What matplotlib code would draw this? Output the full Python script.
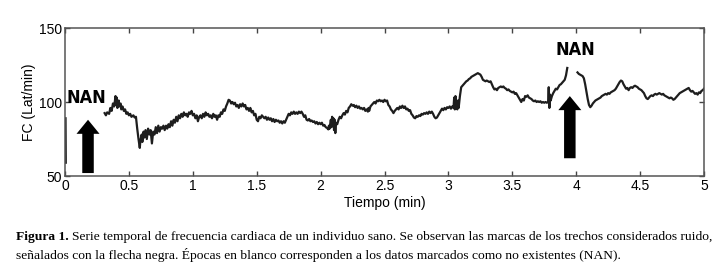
import numpy as np
import matplotlib
matplotlib.use("Agg")
import matplotlib.pyplot as plt

# FC series (min, Lat/min); NaN marks the blank epoch
t_start = [0.004, 0.006]
fc_start = [89, 59]

t_main = [
    0.31, 0.32, 0.33, 0.345, 0.355, 0.365, 0.375, 0.385, 0.395, 0.40, 0.405, 0.41, 0.42, 0.425,
    0.435, 0.44, 0.45, 0.46, 0.47, 0.48, 0.49, 0.50, 0.51, 0.52, 0.535, 0.545, 0.555, 0.565,
    0.575, 0.585, 0.59, 0.60, 0.605, 0.615, 0.62, 0.63, 0.64, 0.65, 0.66, 0.67, 0.68, 0.69,
    0.70, 0.71, 0.72, 0.73, 0.74, 0.75, 0.76, 0.77, 0.78, 0.79, 0.80, 0.81, 0.82, 0.83, 0.84,
    0.85, 0.86, 0.87, 0.88, 0.89, 0.90, 0.91, 0.92, 0.93, 0.94, 0.95, 0.96, 0.97, 0.98, 0.99,
    1.00, 1.01, 1.02, 1.03, 1.04, 1.05, 1.06, 1.07, 1.08, 1.09, 1.10, 1.11, 1.12, 1.13, 1.14,
    1.15, 1.16, 1.17, 1.18, 1.19, 1.20, 1.21, 1.22, 1.23, 1.24, 1.25, 1.26, 1.27, 1.28, 1.29,
    1.30, 1.31, 1.32, 1.33, 1.34, 1.35, 1.36, 1.37, 1.38, 1.39, 1.40, 1.41, 1.42, 1.43, 1.44,
    1.45, 1.46, 1.47, 1.48, 1.49, 1.50, 1.51, 1.52, 1.53, 1.54, 1.55, 1.56, 1.57, 1.58, 1.59,
    1.60, 1.61, 1.62, 1.63, 1.64, 1.65, 1.66, 1.67, 1.68, 1.69, 1.70, 1.71, 1.72, 1.73, 1.74,
    1.75, 1.76, 1.77, 1.78, 1.79, 1.80, 1.81, 1.82, 1.83, 1.84, 1.85, 1.86, 1.87, 1.88, 1.89,
    1.90, 1.91, 1.92, 1.93, 1.94, 1.95, 1.96, 1.97, 1.98, 1.99, 2.00, 2.01, 2.02, 2.03, 2.04,
    2.05, 2.06, 2.065, 2.07, 2.08, 2.085, 2.09, 2.095, 2.10, 2.105, 2.11, 2.115, 2.12, 2.13,
    2.14, 2.15, 2.16, 2.17, 2.18, 2.19, 2.20, 2.21, 2.22, 2.23, 2.24, 2.25, 2.26, 2.27, 2.28,
    2.29, 2.30, 2.31, 2.32, 2.33, 2.34, 2.35, 2.36, 2.37, 2.375, 2.38, 2.39, 2.40, 2.41, 2.42,
    2.43, 2.44, 2.45, 2.46, 2.47, 2.48, 2.49, 2.50, 2.51, 2.52, 2.53, 2.54, 2.55, 2.56, 2.57,
    2.58, 2.59, 2.60, 2.61, 2.62, 2.63, 2.64, 2.65, 2.66, 2.67, 2.68, 2.69, 2.70, 2.71, 2.72,
    2.73, 2.74, 2.75, 2.76, 2.77, 2.78, 2.79, 2.80, 2.81, 2.82, 2.83, 2.84, 2.85, 2.86, 2.87,
    2.88, 2.89, 2.90, 2.91, 2.92, 2.93, 2.94, 2.95, 2.96, 2.97, 2.98, 2.99, 3.00, 3.01, 3.02,
    3.03, 3.04, 3.045, 3.05, 3.055, 3.06, 3.07, 3.075, 3.08, 3.09, 3.10, 3.11, 3.12, 3.13, 3.14,
    3.15, 3.16, 3.17, 3.18, 3.19, 3.20, 3.21, 3.22, 3.23, 3.24, 3.25, 3.26, 3.27, 3.28, 3.29,
    3.30, 3.31, 3.32, 3.33, 3.34, 3.35, 3.36, 3.37, 3.38, 3.39, 3.40, 3.41, 3.42, 3.43, 3.44,
    3.45, 3.46, 3.47, 3.48, 3.49, 3.50, 3.51, 3.52, 3.53, 3.54, 3.55, 3.56, 3.57, 3.58, 3.59,
    3.60, 3.61, 3.62, 3.63, 3.64, 3.65, 3.66, 3.67, 3.68, 3.69, 3.70, 3.71, 3.72, 3.73, 3.74,
    3.75, 3.76, 3.77, 3.78, 3.785, 3.79, 3.795, 3.80, 3.81, 3.82, 3.83, 3.84, 3.85, 3.86, 3.87,
    3.88, 3.89, 3.90, 3.91, 3.92, 3.93,
]
fc_main = [
    92.5, 91, 93, 92, 96, 94, 99, 97, 104, 98, 103, 96, 101, 97,
    99, 95, 97, 94, 95, 92, 93, 91, 92, 90, 91, 89.5, 90, 82,
    75, 69, 74, 78, 73, 80, 76, 81, 75, 82, 78, 81, 72, 80,
    78, 83, 79, 84, 80, 83, 82, 84, 81, 84, 82, 85, 83, 87, 84,
    88, 86, 90, 87, 91, 89, 92, 90, 93, 91, 92, 90, 93, 92, 94,
    91, 92, 89, 91, 87, 90, 91, 89, 92, 90, 93, 91, 92, 90, 91,
    89, 92, 90, 91, 88, 91, 90, 93, 92, 95, 94, 97, 99, 101.5, 101,
    99, 100, 98.5, 99.5, 97, 98, 96, 98.5, 97, 99, 97, 98, 95, 96, 94,
    96, 93, 94, 91, 92, 88, 87, 90, 89, 91, 90, 89, 90, 88, 89.5,
    88, 89, 87, 88.5, 86.5, 88, 87, 87.5, 86, 87, 85.5, 87, 86, 88, 90,
    92, 91, 93, 92, 93.5, 92, 93, 92, 93.5, 92.5, 93.5, 92, 90, 91, 88,
    87.5, 88.5, 87, 87.5, 86.5, 87, 85.5, 86.5, 85, 86, 85, 86, 84, 84.5, 83,
    82.5, 81.5, 84, 82, 88, 83, 90, 84, 89, 81, 88, 79, 86, 85,
    88, 90, 89, 91, 92.5, 91.5, 94, 93, 96, 97, 98.5, 97.5, 98, 96.5, 97.5,
    96, 97, 95.5, 96, 95, 96, 94, 95, 93.5, 96, 94, 97, 98, 99, 100,
    99, 101, 100.5, 101.5, 100.5, 101, 100, 101.5, 100.5, 101, 98, 97, 95, 94, 92.5,
    94, 95, 96, 95, 97, 96, 97.5, 96, 97, 95, 95.5, 94, 94.5, 92, 91,
    89.5, 89, 90.5, 90, 91, 90.5, 92, 91.5, 92.5, 92, 93, 92, 93.5, 92.5, 93.5,
    92, 90, 89, 89.5, 91, 92.5, 94, 95.5, 94.5, 96, 95, 96.5, 96, 97, 95.5,
    97, 96, 103, 95, 104, 97, 95, 101, 96, 104, 110, 111, 112, 113, 114,
    114.5, 115.5, 116, 117, 117.5, 118, 118.5, 119, 119.5, 119, 118.5, 117, 115, 114.5, 114,
    114.5, 114, 113.5, 114, 112, 110, 108.5, 109, 108, 109.5, 110, 110.5, 110, 110.5, 109.5,
    109, 108, 108.5, 107.5, 107, 106.5, 107, 105.5, 106, 104.5, 103, 101.5, 100, 102, 101,
    104, 103.5, 104.5, 103, 102.5, 102, 101, 100.5, 101, 100, 100.5, 100, 100.5, 99.5, 100,
    99.5, 100, 99.5, 100, 110, 96, 105, 101, 104, 106, 107.5, 109, 108.5, 110, 111.5,
    112, 113, 114, 115, 118, 123,
]

t_end = [
    4.01, 4.02, 4.03, 4.04, 4.05, 4.06, 4.07, 4.08, 4.09, 4.10, 4.11, 4.12, 4.13, 4.14, 4.15,
    4.16, 4.17, 4.18, 4.19, 4.20, 4.21, 4.22, 4.23, 4.24, 4.25, 4.26, 4.27, 4.28, 4.29, 4.30,
    4.31, 4.32, 4.33, 4.34, 4.35, 4.36, 4.37, 4.38, 4.39, 4.40, 4.41, 4.42, 4.43, 4.44, 4.45,
    4.46, 4.47, 4.48, 4.49, 4.50, 4.51, 4.52, 4.53, 4.54, 4.55, 4.56, 4.57, 4.58, 4.59, 4.60,
    4.61, 4.62, 4.63, 4.64, 4.65, 4.66, 4.67, 4.68, 4.69, 4.70, 4.71, 4.72, 4.73, 4.74, 4.75,
    4.76, 4.77, 4.78, 4.79, 4.80, 4.81, 4.82, 4.83, 4.84, 4.85, 4.86, 4.87, 4.88, 4.89, 4.90,
    4.91, 4.92, 4.93, 4.94, 4.95, 4.96, 4.97, 4.98, 4.99, 5.00,
]
fc_end = [
    120, 119, 118.5, 118, 117.5, 116, 112, 107, 102, 98, 96.5, 97.5, 99, 100, 101,
    101.5, 102, 102.5, 103, 104, 104.5, 105, 105.5, 105, 106, 105.5, 106.5, 107, 107.5, 108,
    109, 110.5, 112, 113.5, 114.5, 114, 112, 110.5, 109, 109.5, 108, 109.5, 110, 109.5, 110.5,
    111, 110.5, 110, 109, 108.5, 108, 107, 106, 104, 102.5, 102, 103, 104, 104.5, 104,
    105, 105.5, 105, 105.5, 106, 105.5, 105, 105.5, 104.5, 104, 103.5, 103, 102.5, 103, 102.5,
    101.5, 102, 103, 104, 105, 106, 106.5, 107, 107.5, 108, 108.5, 109, 109.5, 108, 107,
    107.5, 106.5, 105.5, 106, 105, 106.5, 106, 107.5, 108, 109,
]

# noise marks: x, bottom, tip (min, Lat/min)
arrow_x = [0.18, 3.95]
arrow_bottom = [52, 62]
arrow_tip = [88, 104]
nan_x = [0.17, 3.99]
nan_y = [103, 135]

time = t_start + [np.nan] + t_main + [np.nan] + t_end
fc = fc_start + [np.nan] + fc_main + [np.nan] + fc_end

plt.rcParams["font.family"] = ["Liberation Sans", "DejaVu Sans"]

fig = plt.figure(figsize=(7.24, 2.77), dpi=100)
ax = fig.add_axes([0.0898, 0.3646, 0.8826, 0.5343])

ax.plot(time, fc, color="#1e1e1e", lw=1.6)

for x, y0, y1 in zip(arrow_x, arrow_bottom, arrow_tip):
    ax.arrow(x, y0, 0, y1 - y0, width=0.09, head_width=0.18, head_length=9.5,
             length_includes_head=True, color="black", lw=0)

for x, y in zip(nan_x, nan_y):
    ax.text(x, y, "NAN", ha="center", va="center", fontsize=13, fontweight="bold",
            fontstretch="condensed", family=["DejaVu Sans"])

ax.set_xlim(0, 5)
ax.set_ylim(50, 150)
ax.set_xticks(np.arange(0, 5.01, 0.5))
ax.set_xticklabels(["0", "0.5", "1", "1.5", "2", "2.5", "3", "3.5", "4", "4.5", "5"])
ax.set_yticks([50, 100, 150])
ax.tick_params(direction="in", top=True, right=True, length=3.5, width=1,
               color="#444444", labelsize=10, pad=2)
for s in ax.spines.values():
    s.set_color("#555555")
    s.set_linewidth(1.1)

ax.set_xlabel("Tiempo (min)", fontsize=10, labelpad=2)
ax.set_ylabel("FC (Lat/min)", fontsize=10, labelpad=2)

serif = ["Liberation Serif", "DejaVu Serif"]
y1 = 1 - 237 / 277
y2 = 1 - 255 / 277
bold = fig.text(0.022, y1, "Figura 1.", fontsize=9.7, fontweight="bold",
                family=serif, va="center")
fig.canvas.draw()
bb = bold.get_window_extent().transformed(fig.transFigure.inverted())
fig.text(bb.x1 + 0.005, y1,
         "Serie temporal de frecuencia cardiaca de un individuo sano. Se observan las marcas "
         "de los trechos considerados ruido,",
         fontsize=9.7, family=serif, va="center")
fig.text(0.022, y2,
         "señalados con la flecha negra. Épocas en blanco corresponden a los datos marcados "
         "como no existentes (NAN).",
         fontsize=9.7, family=serif, va="center")

fig.savefig("out.png", dpi=100)
